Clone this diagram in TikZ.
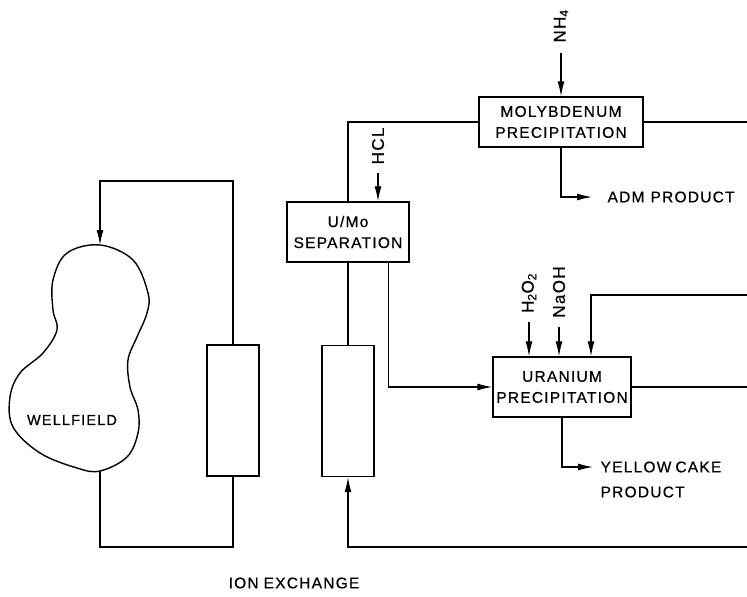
\documentclass[tikz,border=0pt]{standalone}
\usepackage{fontspec}
\setmainfont{Liberation Sans}[LetterSpace=8, FakeBold=0.6]
\usetikzlibrary{arrows.meta}

\begin{document}
\begin{tikzpicture}[x=1pt, y=-1pt, line width=1.2pt,
    box/.style={draw, rectangle, line width=1.4pt, align=center, inner sep=0pt, font=\fontsize{15.5}{21}\selectfont},
    column/.style={draw, rectangle, line width=1.4pt, minimum width=52pt, minimum height=131pt, inner sep=0pt},
    chem/.style={rotate=90, inner sep=0pt, font=\fontsize{17}{18}\selectfont},
    lbl/.style={anchor=west, inner sep=0pt, font=\fontsize{15.5}{16}\selectfont},
    flow/.style={-{Latex[length=15pt, width=7pt]}}]
    % Frame
    \useasboundingbox (0,0) rectangle (747,597);
    \coordinate (e1) at (747,122);
    \coordinate (e2) at (747,295);
    \coordinate (e3) at (747,387);
    \coordinate (e4) at (747,547);
    \coordinate (ret) at (0,181);
    % Process units
    \node[box, minimum width=164pt, minimum height=50pt] (moly) at (561,122) {MOLYBDENUM\\PRECIPITATION};
    \node[box, minimum width=122pt, minimum height=60pt] (umo) at (348,232) {U/Mo\\SEPARATION};
    \node[box, minimum width=138pt, minimum height=60pt] (uran) at (562,387) {URANIUM\\PRECIPITATION};
    \node[column] (col1) at (233,410.5) {};
    \node[column] (col2) at (348,411) {};
    % Wellfield
    \draw[line width=1.4pt] plot[smooth cycle, tension=0.6] coordinates {(100,245) (133,260) (148,293) (147,313) (137,337) (128,360) (130,387) (138,410) (138,433) (127,457) (100,471) (77,468) (40,453) (13,427) (10,397) (20,373) (43,353) (57,330) (53,310) (53,280) (67,253)};
    \coordinate (wtop) at (100,245);
    \coordinate (wbot) at (100,471);
    \node[font=\fontsize{14.5}{16}\selectfont] (well) at (72,420) {WELLFIELD};
    % Reagents
    \node[chem] (nh) at (561,26) {NH\textsubscript{4}};
    \node[chem] (hcl) at (378,146) {HCL};
    \node[chem] (hoo) at (529,293) {H\textsubscript{2}O\textsubscript{2}};
    \node[chem] (naoh) at (559,292) {NaOH};
    % Products
    \node[lbl] (adm) at (607,197) {ADM\hspace{6pt}PRODUCT};
    \node[lbl] (ycake) at (600,467) {YELLOW\hspace{4pt}CAKE};
    \node[lbl] (prod) at (600,492) {PRODUCT};
    \node[font=\fontsize{15.5}{16}\selectfont] (ionx) at (294,583) {ION\hspace{5pt}EXCHANGE};
    % Molybdenum side
    \draw (moly.west) -| (umo.north);
    \draw[flow] ([yshift=-10pt]nh.west) -- (moly.north);
    \draw[flow] ([yshift=-8pt]hcl.west) -- (hcl.west |- umo.north);
    \draw[flow] (moly.south) |- ([xshift=-15pt]adm.west);
    \draw (moly.east) -- (e1);
    % Uranium side
    \draw (umo.south) -- (col2.north);
    \draw[flow] ([xshift=-21pt]umo.south east) |- (uran.west);
    \draw (uran.east) -- (e3);
    \draw[flow] (e2) -| ([xshift=29pt]uran.north);
    \draw[flow] ([yshift=-9pt]hoo.west) -- (hoo.west |- uran.north);
    \draw[flow] ([yshift=-9pt]naoh.west) -- (naoh.west |- uran.north);
    \draw[flow] (uran.south) |- ([xshift=-7pt]ycake.west);
    \draw[flow] (e4) -| (col2.south);
    % Wellfield loop
    \draw[flow] (col1.north) -- (col1.north |- ret) -| (wtop);
    \draw (col1.south) -- (col1.south |- e4) -| (wbot);
\end{tikzpicture}
\end{document}
